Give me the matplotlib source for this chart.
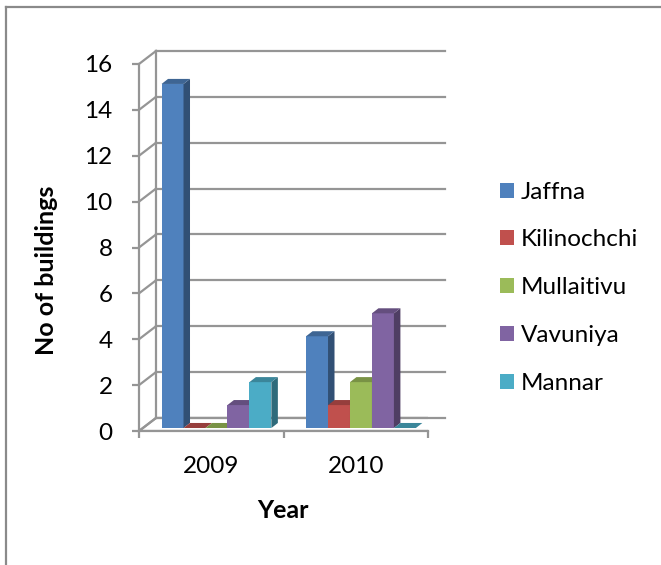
import numpy as np
import matplotlib
matplotlib.use('Agg')
import matplotlib.pyplot as plt
from matplotlib.patches import Polygon, Patch
from matplotlib.lines import Line2D
from matplotlib.colors import to_rgb

# data
years = ['2009', '2010']
districts = ['Jaffna', 'Kilinochchi', 'Mullaitivu', 'Vavuniya', 'Mannar']
jaffna = [15, 4]
kilinochchi = [0, 1]
mullaitivu = [0, 2]
vavuniya = [1, 5]
mannar = [2, 0]
series = [jaffna, kilinochchi, mullaitivu, vavuniya, mannar]
colors = ['#4F81BD', '#C0504D', '#9BBB59', '#8064A2', '#4BACC6']
y_ticks = list(range(0, 17, 2))

plt.rcParams['font.family'] = ['Lato', 'DejaVu Sans']

fig = plt.figure(figsize=(6.61, 5.65), dpi=100)
ax = fig.add_axes([139 / 661, 1 - 431 / 565, 289 / 661, 367 / 565])
ax.set_xlim(0, len(years))
ax.set_ylim(0, 16)
ax.patch.set_visible(False)

# 3d look: offsets in data units
wall_dx, wall_dy = 0.118, 0.57
bar_dx, bar_dy = 0.045, 0.22
base_dx, base_dy = 0.036, 0.13
bar_w = 0.152
grid_c = '#959595'
lw = 1.6


def shade(c, f):
    r, g, b = to_rgb(c)
    return (r * f, g * f, b * f)


# floor
ax.add_patch(Polygon([(0, 0), (2, 0), (2 + wall_dx, wall_dy), (wall_dx, wall_dy)],
                     closed=True, facecolor='white', edgecolor=grid_c, lw=lw, zorder=1))
# back wall grid and side wall diagonals
for t in y_ticks:
    ax.plot([wall_dx, 2 + wall_dx], [t + wall_dy, t + wall_dy], color=grid_c, lw=lw, zorder=1,
            clip_on=False)
    ax.plot([0, wall_dx], [t, t + wall_dy], color=grid_c, lw=lw, zorder=1, clip_on=False)
ax.plot([wall_dx, wall_dx], [wall_dy, 16 + wall_dy], color=grid_c, lw=lw, zorder=1, clip_on=False)

# bars, left to right so side faces are hidden by the next bar
n = len(series)
for i in range(len(years)):
    x0 = i + 0.5 + base_dx - n * bar_w / 2
    for j, vals in enumerate(series):
        v = vals[i]
        x = x0 + j * bar_w
        b = base_dy
        c = colors[j]
        front = Polygon([(x, b), (x + bar_w, b), (x + bar_w, b + v), (x, b + v)],
                        facecolor=c, edgecolor='none', zorder=3, clip_on=False)
        side = Polygon([(x + bar_w, b), (x + bar_w + bar_dx, b + bar_dy),
                        (x + bar_w + bar_dx, b + bar_dy + v), (x + bar_w, b + v)],
                       facecolor=shade(c, 0.62), edgecolor='none', zorder=3, clip_on=False)
        top = Polygon([(x, b + v), (x + bar_w, b + v), (x + bar_w + bar_dx, b + v + bar_dy),
                       (x + bar_dx, b + v + bar_dy)],
                      facecolor=shade(c, 0.78), edgecolor='none', zorder=3, clip_on=False)
        for p in (front, side, top):
            ax.add_patch(p)

# axes
for s in ['top', 'right']:
    ax.spines[s].set_visible(False)
for s in ['left', 'bottom']:
    ax.spines[s].set_color(grid_c)
    ax.spines[s].set_linewidth(lw)
ax.set_yticks(y_ticks)
ax.tick_params(axis='y', length=5, width=lw, color=grid_c, labelsize=17.5, pad=14)
ax.set_xticks([0, 1, 2])
ax.set_xticklabels([])
ax.set_xticks([0.5, 1.5], minor=True)
ax.set_xticklabels(years, minor=True)
ax.tick_params(axis='x', which='major', length=5, width=lw, color=grid_c)
ax.tick_params(axis='x', which='minor', length=0, labelsize=17.5, pad=18)

fig.text(283 / 661, 1 - 510 / 565, 'Year', ha='center', va='center', fontsize=18, fontweight='bold')
fig.text(47 / 661, 1 - 270 / 565, 'No of buildings', ha='center', va='center', rotation=90,
         fontsize=18, fontweight='bold')

handles = [Patch(facecolor=c, edgecolor='none') for c in colors]
fig.legend(handles, districts, loc='upper left', bbox_to_anchor=(490 / 661, 1 - 172 / 565),
           frameon=False, fontsize=17.5, handlelength=0.58, handleheight=0.58,
           handletextpad=0.3, labelspacing=1.1, borderaxespad=0)

# chart border (left and top edges only visible)
fig.add_artist(Line2D([6 / 661, 6 / 661], [0, 1 - 7 / 565], color='#8a8a8a', lw=1.6))
fig.add_artist(Line2D([6 / 661, 1], [1 - 7 / 565, 1 - 7 / 565], color='#8a8a8a', lw=1.6))

fig.savefig('out.png', dpi=100)
